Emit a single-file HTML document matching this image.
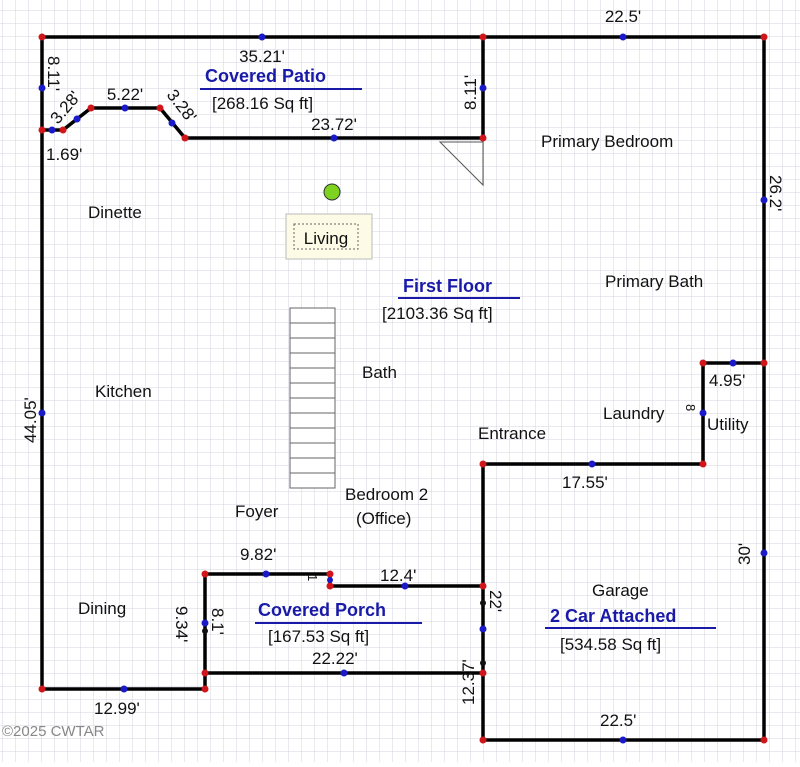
<!DOCTYPE html>
<html><head><meta charset="utf-8"><style>
body{margin:0;background:#fff}
svg text{font-family:"Liberation Sans",sans-serif;fill:#111}
</style></head><body>
<svg width="800" height="762" viewBox="0 0 800 762" xmlns="http://www.w3.org/2000/svg">
<defs>
<pattern id="g" width="13" height="13" patternUnits="userSpaceOnUse" x="3" y="11">
<path d="M13 0V13H0" fill="none" stroke="#d0d6e2" stroke-width="1"/>
</pattern>
</defs>
<rect width="800" height="762" fill="url(#g)"/>
<g fill="none" stroke="#000" stroke-width="3.5">
<polyline points="483,138 185,138 160,108 91,108 63,130 42,130"/>
<polyline points="42,37 764,37 764,740 483,740 483,464 703,464 703,363 764,363"/>
<polyline points="483,37 483,138"/>
<polyline points="42,37 42,689 205,689"/>
<polyline points="205,673 205,574 330,574 330,586 483,586"/>
<polyline points="205,689 205,673 483,673"/>
</g>
<polygon points="440,142 483,142 483,185" fill="none" stroke="#555" stroke-width="1"/>
<g stroke="#666" stroke-width="1" fill="#fff">
<rect x="290" y="308" width="45" height="180"/>
</g>
<g stroke="#666" stroke-width="1">
<line x1="290" y1="323" x2="335" y2="323"/><line x1="290" y1="338" x2="335" y2="338"/><line x1="290" y1="353" x2="335" y2="353"/><line x1="290" y1="368" x2="335" y2="368"/><line x1="290" y1="383" x2="335" y2="383"/><line x1="290" y1="398" x2="335" y2="398"/><line x1="290" y1="413" x2="335" y2="413"/><line x1="290" y1="428" x2="335" y2="428"/><line x1="290" y1="443" x2="335" y2="443"/><line x1="290" y1="458" x2="335" y2="458"/><line x1="290" y1="473" x2="335" y2="473"/>
</g>
<circle cx="332" cy="192" r="8" fill="#7ed321" stroke="#333"/>
<rect x="286" y="214" width="86" height="45" fill="#fdfbe6" stroke="#bbb"/>
<rect x="294" y="224" width="64" height="25" fill="none" stroke="#666" stroke-dasharray="2,2"/>
<text x="326" y="244" font-size="17" text-anchor="middle">Living</text>
<g fill="#d0161a">
<circle cx="42" cy="37" r="3.5"/><circle cx="483" cy="37" r="3.5"/><circle cx="764" cy="37" r="3.5"/><circle cx="483" cy="138" r="3.5"/><circle cx="185" cy="138" r="3.5"/><circle cx="160" cy="108" r="3.5"/><circle cx="91" cy="108" r="3.5"/><circle cx="63" cy="130" r="3.5"/><circle cx="42" cy="130" r="3.5"/><circle cx="764" cy="363" r="3.5"/><circle cx="703" cy="363" r="3.5"/><circle cx="703" cy="464" r="3.5"/><circle cx="483" cy="464" r="3.5"/><circle cx="483" cy="586" r="3.5"/><circle cx="483" cy="673" r="3.5"/><circle cx="483" cy="740" r="3.5"/><circle cx="764" cy="740" r="3.5"/><circle cx="42" cy="689" r="3.5"/><circle cx="205" cy="689" r="3.5"/><circle cx="205" cy="673" r="3.5"/><circle cx="205" cy="574" r="3.5"/><circle cx="330" cy="574" r="3.5"/><circle cx="330" cy="586" r="3.5"/>
</g>
<g fill="#1a1ac8">
<circle cx="262" cy="37" r="3.5"/><circle cx="623" cy="37" r="3.5"/><circle cx="42" cy="88" r="3.5"/><circle cx="483" cy="88" r="3.5"/><circle cx="334" cy="138" r="3.5"/><circle cx="125" cy="108" r="3.5"/><circle cx="172" cy="123" r="3.5"/><circle cx="77" cy="119" r="3.5"/><circle cx="52" cy="130" r="3.5"/><circle cx="764" cy="200" r="3.5"/><circle cx="42" cy="413" r="3.5"/><circle cx="733" cy="363" r="3.5"/><circle cx="703" cy="413" r="3.5"/><circle cx="592" cy="464" r="3.5"/><circle cx="764" cy="553" r="3.5"/><circle cx="623" cy="740" r="3.5"/><circle cx="124" cy="689" r="3.5"/><circle cx="266" cy="574" r="3.5"/><circle cx="405" cy="586" r="3.5"/><circle cx="344" cy="673" r="3.5"/><circle cx="205" cy="623" r="3.5"/><circle cx="483" cy="629" r="3.5"/><circle cx="330" cy="580" r="3"/>
</g>
<g fill="#111"><circle cx="483" cy="603" r="3"/><circle cx="483" cy="663" r="3"/><circle cx="205" cy="631" r="3"/></g>
<g font-size="17">
<text x="623" y="22" text-anchor="middle">22.5'</text>
<text x="262" y="62" text-anchor="middle">35.21'</text>
<text x="334" y="130" text-anchor="middle">23.72'</text>
<text x="125" y="100" text-anchor="middle">5.22'</text>
<text x="46" y="160">1.69'</text>
<text x="541" y="147">Primary Bedroom</text>
<text x="88" y="218">Dinette</text>
<text x="605" y="287">Primary Bath</text>
<text x="362" y="378">Bath</text>
<text x="95" y="397">Kitchen</text>
<text x="709" y="386">4.95'</text>
<text x="603" y="419">Laundry</text>
<text x="707" y="430">Utility</text>
<text x="478" y="439">Entrance</text>
<text x="562" y="488">17.55'</text>
<text x="345" y="500">Bedroom 2</text>
<text x="356" y="524">(Office)</text>
<text x="235" y="517">Foyer</text>
<text x="240" y="560">9.82'</text>
<text x="380" y="581">12.4'</text>
<text x="592" y="596">Garage</text>
<text x="78" y="614">Dining</text>
<text x="268" y="642">[167.53 Sq ft]</text>
<text x="312" y="664">22.22'</text>
<text x="560" y="650">[534.58 Sq ft]</text>
<text x="94" y="714">12.99'</text>
<text x="600" y="726">22.5'</text>
<text x="212" y="109">[268.16 Sq ft]</text>
<text x="382" y="319">[2103.36 Sq ft]</text>
</g>
<g font-size="18" font-weight="bold">
<text x="205" y="82" style="fill:#1a1aa8">Covered Patio</text>
<text x="403" y="292" style="fill:#1a1aa8">First Floor</text>
<text x="258" y="616" style="fill:#1a1aa8">Covered Porch</text>
<text x="550" y="622" style="fill:#1a1aa8">2 Car Attached</text>
</g>
<g stroke="#1a1aa8" stroke-width="2">
<line x1="200" y1="89" x2="362" y2="89"/><line x1="398" y1="298" x2="520" y2="298"/><line x1="255" y1="623" x2="422" y2="623"/><line x1="545" y1="628" x2="716" y2="628"/>
</g>
<g font-size="17">
<text transform="translate(48,56) rotate(90)">8.11'</text>
<text transform="translate(476,110) rotate(-90)">8.11'</text>
<text transform="translate(770,175) rotate(90)">26.2'</text>
<text transform="translate(36,443) rotate(-90)">44.05'</text>
<text transform="translate(750,565) rotate(-90)">30'</text>
<text transform="translate(490,590) rotate(90)">22'</text>
<text transform="translate(474,705) rotate(-90)">12.37'</text>
<text transform="translate(212,608) rotate(90)">8.1'</text>
<text transform="translate(176,606) rotate(90)">9.34'</text>
<text transform="translate(308,574) rotate(90)" font-size="13">1</text>
<text transform="translate(686,404) rotate(90)" font-size="13">8</text>
<text transform="translate(58,125) rotate(-50)">3.28'</text>
<text transform="translate(166,95) rotate(52)">3.28'</text>
</g>
<text x="2" y="736" font-size="15" style="fill:#888">©2025 CWTAR</text>
</svg>
</body></html>
